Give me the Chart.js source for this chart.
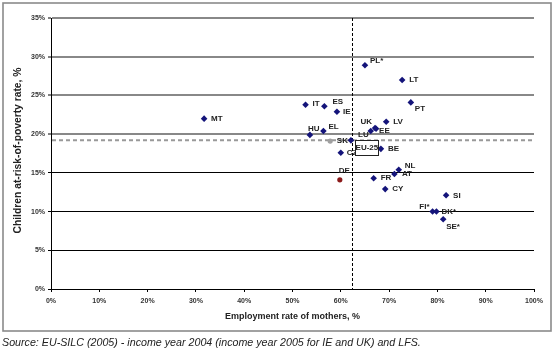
<!DOCTYPE html>
<html><head><meta charset="utf-8">
<script src="https://cdn.jsdelivr.net/npm/chart.js@4"></script>
<style>html,body{margin:0;padding:0;background:#fff}canvas{display:block}</style>
</head><body>
<canvas id="c" width="556" height="354"></canvas>
<script>
// ---- data ----
const countries  = ['PL*','LT','PT','IT','ES','IE','LV','UK','LU','EE','HU','EL','SK','BE','CZ','NL','AT','FR','CY','SI','FI*','DK*','SE*','MT'];
const employment = [65.0,72.7,74.5,52.7,56.6,59.2,69.4,67.1,66.2,67.3,53.6,56.4,62.1,68.3,60.0,72.0,71.1,66.8,69.2,81.8,79.0,79.8,81.2,31.7];
const poverty    = [28.9,27.0,24.1,23.8,23.6,22.9,21.6,20.8,20.4,20.7,19.9,20.4,19.2,18.1,17.6,15.4,14.85,14.3,12.9,12.1,10.0,10.0,9.0,22.0];
const deCountry = ['DE'];
const deEmployment = [59.8];
const dePoverty = [14.1];
const greyEmployment = [57.8];
const greyPoverty = [19.1];
const avgEmployment = 62.3;   // EU-25 average (vertical dashed line)
const avgPoverty = 19.2;      // EU-25 average (horizontal dashed line)
const avgLabel = 'EU-25';
const xTickStep = 10, yTickStep = 5;

// label placement (pixel offsets from point, alignment)
const labelPos = {
  'PL*':[5,-4,'left'],'LT':[7,0,'left'],'PT':[4,6,'left'],'IT':[7,-1,'left'],'ES':[8,-4,'left'],
  'IE':[6,0,'left'],'LV':[7,0,'left'],'UK':[-3,-6,'right'],'LU':[-2,4,'right'],'EE':[3,2,'left'],
  'HU':[-2,-6,'left'],'EL':[5,-4,'left'],'SK':[-3,0,'right'],'BE':[7,0,'left'],'CZ':[6,0,'left'],
  'NL':[6,-4,'left'],'AT':[7.5,0,'left'],'FR':[7,0,'left'],'CY':[7,0,'left'],'SI':[7,0,'left'],
  'FI*':[-3,-4.5,'right'],'DK*':[5,0,'left'],'SE*':[3,7,'left'],'MT':[7,0,'left'],'DE':[-1,-9,'left']
};

const toPts = (xs, ys) => xs.map((x,i)=>({x:x, y:ys[i]}));

const overlay = {
  id:'overlay',
  beforeDraw(chart){
    const c = chart.ctx;
    c.save();
    c.fillStyle='#fff'; c.fillRect(0,0,chart.width,chart.height);
    c.strokeStyle='#8a8a8a'; c.lineWidth=1.6;
    c.strokeRect(3,3,548,328);
    c.restore();
  },
  beforeDatasetsDraw(chart){
    const c = chart.ctx, xs = chart.scales.x, ys = chart.scales.y, a = chart.chartArea;
    c.save();
    const py = ys.getPixelForValue(avgPoverty);
    c.strokeStyle='#999'; c.lineWidth=2; c.setLineDash([4,3]);
    c.beginPath(); c.moveTo(a.left+1, py); c.lineTo(a.right, py); c.stroke();
    const px = Math.round(xs.getPixelForValue(avgEmployment))+0.5;
    c.strokeStyle='#000'; c.lineWidth=1; c.setLineDash([3,2]);
    c.beginPath(); c.moveTo(px, a.top); c.lineTo(px, a.bottom); c.stroke();
    c.restore();
  },
  afterDatasetsDraw(chart){
    const c = chart.ctx, xs = chart.scales.x, ys = chart.scales.y, a = chart.chartArea;
    c.save();
    c.font='bold 8px "Liberation Sans", Arial, sans-serif';
    c.fillStyle='#222'; c.textBaseline='middle';
    const draw = (names, ex, py) => names.forEach((n,i)=>{
      const p = labelPos[n] || [6,0,'left'];
      const x = xs.getPixelForValue(ex[i]), y = ys.getPixelForValue(py[i]);
      c.textAlign = p[2];
      c.fillText(n, x+p[0], y+p[1]);
    });
    draw(countries, employment, poverty);
    draw(deCountry, deEmployment, dePoverty);
    // EU-25 box
    const cx = xs.getPixelForValue(avgEmployment), cy = ys.getPixelForValue(avgPoverty);
    c.fillStyle='#fff'; c.fillRect(cx+3, cy-0.5, 23.5, 15.5);
    c.strokeStyle='#222'; c.lineWidth=1; c.setLineDash([]);
    c.strokeRect(Math.round(cx+3)+0.5, Math.round(cy-0.5)+0.5, 23, 15);
    c.fillStyle='#222'; c.textAlign='center';
    c.fillText(avgLabel, cx+15, cy+7.5);
    // axis titles
    c.font='bold 9px "Liberation Sans", Arial, sans-serif';
    c.textAlign='center';
    c.fillText('Employment rate of mothers, %', (a.left+a.right)/2, 317);
    c.save();
    c.font='bold 10.3px "Liberation Sans", Arial, sans-serif';
    c.translate(18, (a.top+a.bottom)/2 - 3);
    c.rotate(-Math.PI/2);
    c.fillText('Children at-risk-of-poverty rate, %', 0, 0);
    c.restore();
    // source
    c.font='italic 10.7px "Liberation Sans", Arial, sans-serif';
    c.textAlign='left'; c.fillStyle='#222';
    c.fillText('Source: EU-SILC (2005) - income year 2004 (income year 2005 for IE and UK) and LFS.', 2, 343);
    c.restore();
  }
};

const tickFont = {family:'"Liberation Sans", Arial, sans-serif', size:7, weight:'bold'};

new Chart(document.getElementById('c'), {
  type:'scatter',
  data:{datasets:[
    {label:'countries', data: toPts(employment, poverty), pointStyle:'rectRot', pointRadius:3.3, backgroundColor:'#14147a', borderWidth:0},
    {label:'DE', data: toPts(deEmployment, dePoverty), pointStyle:'circle', pointRadius:2.6, backgroundColor:'#8b1a1a', borderWidth:0},
    {label:'grey', data: toPts(greyEmployment, greyPoverty), pointStyle:'circle', pointRadius:2.6, backgroundColor:'#a0a0a0', borderWidth:0}
  ]},
  options:{
    responsive:false, animation:false, events:[],
    layout:{padding:{top:18,right:22,left:0,bottom:0}},
    plugins:{legend:{display:false}, tooltip:{enabled:false}},
    scales:{
      x:{type:'linear', min:0, max:100,
        afterFit(s){ s.height = 65; },
        ticks:{stepSize:xTickStep, callback:v=>v+'%', font:tickFont, color:'#333', padding:5, maxRotation:0, autoSkip:false},
        grid:{drawOnChartArea:false, drawTicks:true, tickLength:3, tickColor:'#000', tickWidth:1},
        border:{color:'#000', width:1}
      },
      y:{type:'linear', min:0, max:35,
        afterFit(s){ s.width = 51; },
        ticks:{stepSize:yTickStep, callback:v=>v+'%', font:tickFont, color:'#333', padding:3},
        grid:{color:ctx=> (ctx.tick && ctx.tick.value>=20) ? '#888' : '#000',
              lineWidth:ctx=> (ctx.tick && ctx.tick.value>=20) ? 2 : 1,
              tickLength:3, tickColor:'#000', tickWidth:1},
        border:{color:'#000', width:1}
      }
    }
  },
  plugins:[overlay]
});
</script>
</body></html>
